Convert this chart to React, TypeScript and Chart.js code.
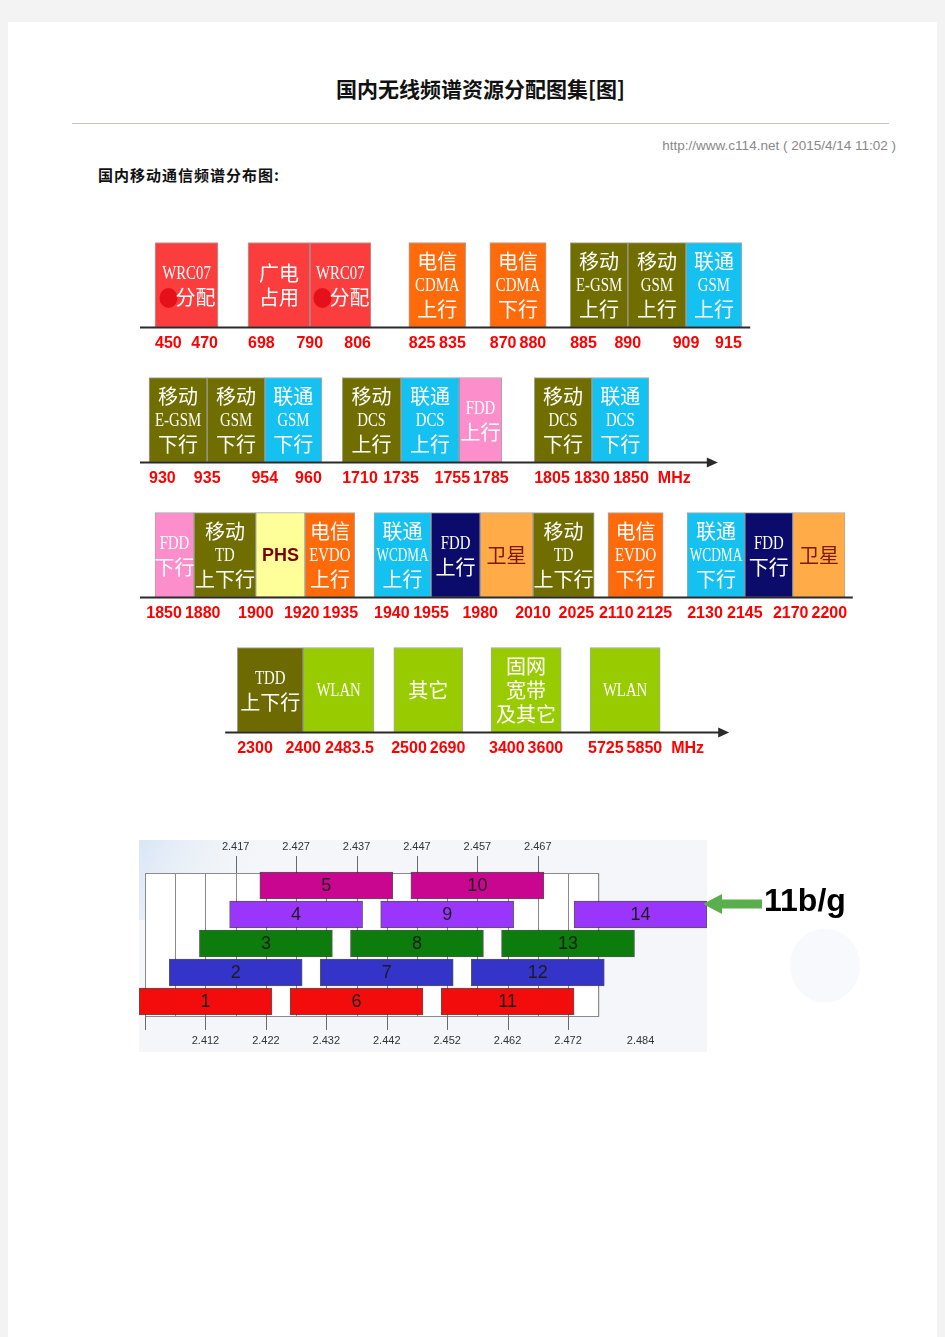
import React, { useEffect, useRef } from 'react';
import { Chart, registerables } from 'chart.js';

Chart.register(...registerables);

// ================= Spectrum allocation rows (MHz) =================
const rowIds = ['row1', 'row2', 'row3', 'row4'];

// tick labels (frequencies) and their schematic position along the row axis (1 unit ≈ one band width)
const row1Ticks = ['450', '470', '698', '790', '806', '825', '835', '870', '880', '885', '890', '909', '915'];
const row1Pos = [0.25, 1.3, 1.8, 2.83, 3.85, 4.48, 5.43, 5.83, 6.77, 7.17, 8.13, 9.1, 10.03];
const row1Bands = [['450', '470'], ['698', '790'], ['790', '806'], ['825', '835'], ['870', '880'], ['885', '890'], ['890', '909'], ['909', '915']];
const row1Names = ['WRC07\n分配', '广电\n占用', 'WRC07\n分配', '电信\nCDMA\n上行', '电信\nCDMA\n下行', '移动\nE-GSM\n上行', '移动\nGSM\n上行', '联通\nGSM\n上行'];
const row1Kinds = ['wrc', 'sarft', 'wrc', 'telecom', 'telecom', 'mobile', 'mobile', 'unicom'];

const row2Ticks = ['930', '935', '954', '960', '1710', '1735', '1755', '1785', '1805', '1830', '1850'];
const row2Pos = [0.15, 1.12, 2.08, 3.03, 3.37, 4.35, 5.32, 6.03, 6.57, 7.53, 8.48];
const row2Bands = [['930', '935'], ['935', '954'], ['954', '960'], ['1710', '1735'], ['1735', '1755'], ['1755', '1785'], ['1805', '1830'], ['1830', '1850']];
const row2Names = ['移动\nE-GSM\n下行', '移动\nGSM\n下行', '联通\nGSM\n下行', '移动\nDCS\n上行', '联通\nDCS\n上行', 'FDD\n上行', '移动\nDCS\n下行', '联通\nDCS\n下行'];
const row2Kinds = ['mobile', 'mobile', 'unicom', 'mobile', 'unicom', 'fdd', 'mobile', 'unicom'];

const row3Ticks = ['1850', '1880', '1900', '1920', '1935', '1940', '1955', '1980', '2010', '2025', '2110', '2125', '2130', '2145', '2170', '2200'];
const row3Pos = [0.25, 0.9, 1.93, 2.75, 3.58, 3.9, 4.85, 5.67, 6.55, 7.57, 7.8, 8.72, 9.12, 10.08, 10.88, 11.75];
const row3Bands = [['1850', '1880'], ['1880', '1900'], ['1900', '1920'], ['1920', '1935'], ['1940', '1955'], ['1955', '1980'], ['1980', '2010'], ['2010', '2025'], ['2110', '2125'], ['2130', '2145'], ['2145', '2170'], ['2170', '2200']];
const row3Names = ['FDD\n下行', '移动\nTD\n上下行', 'PHS', '电信\nEVDO\n上行', '联通\nWCDMA\n上行', 'FDD\n上行', '卫星', '移动\nTD\n上下行', '电信\nEVDO\n下行', '联通\nWCDMA\n下行', 'FDD\n下行', '卫星'];
const row3Kinds = ['fdd', 'mobile', 'phs', 'telecom', 'unicom', 'fdd3g', 'sat', 'mobile', 'telecom', 'unicom', 'fdd3g', 'sat'];

const row4Ticks = ['2300', '2400', '2483.5', '2500', '2690', '3400', '3600', '5725', '5850'];
const row4Pos = [1.62, 2.72, 3.9, 4.23, 5.38, 5.85, 7.02, 7.5, 8.67];
const row4Bands = [['2300', '2400'], ['2400', '2483.5'], ['2500', '2690'], ['3400', '3600'], ['5725', '5850']];
const row4Names = ['TDD\n上下行', 'WLAN', '其它', '固网\n宽带\n及其它', 'WLAN'];
const row4Kinds = ['tdd', 'wlan', 'wlan', 'wlan', 'wlan'];

const axisStart = [0, 0, 0, 1.42];
const axisEnd = [10.17, 9.63, 11.88, 9.82];
const axisArrow = [false, true, false, true];
const axisUnit = ['', 'MHz', '', 'MHz'];

const palette: Record<string, { fill: string; text: string }> = {
  wrc: { fill: '#fb3d3d', text: '#ffffff' },
  sarft: { fill: '#fb3d3d', text: '#ffffff' },
  telecom: { fill: '#ff6a0a', text: '#ffffff' },
  mobile: { fill: '#716e00', text: '#ffffff' },
  unicom: { fill: '#14c1f1', text: '#ffffff' },
  fdd: { fill: '#fd8ecc', text: '#ffffff' },
  phs: { fill: '#ffff99', text: '#7d0000' },
  fdd3g: { fill: '#0b0b6b', text: '#ffffff' },
  sat: { fill: '#ffab48', text: '#7d1800' },
  tdd: { fill: '#6c6a00', text: '#ffffff' },
  wlan: { fill: '#99cc00', text: '#ffffff' },
};

// ================= 802.11b/g channels (MHz) =================
const wifiChannels = ['1', '2', '3', '4', '5', '6', '7', '8', '9', '10', '11', '12', '13', '14'];
const wifiCenters = [2412, 2417, 2422, 2427, 2432, 2437, 2442, 2447, 2452, 2457, 2462, 2467, 2472, 2484];
const wifiRows = [0, 1, 2, 3, 4, 0, 1, 2, 3, 4, 0, 1, 2, 3];
const wifiWidth = 22;
const wifiTopTicks = ['2.417', '2.427', '2.437', '2.447', '2.457', '2.467'];
const wifiBottomTicks = ['2.412', '2.422', '2.432', '2.442', '2.452', '2.462', '2.472', '2.484'];
const wifiGridFrom = 2402;
const wifiGridTo = 2477;
const wifiGridStep = 5;
const wifiRowColors = ['#f30c0c', '#3434c9', '#0c7c0c', '#9a36fb', '#c9068f'];
const wifiStandard = '11b/g';

const BAND_H = 85;
const CJK = '"Noto Sans CJK SC", sans-serif';

function SpectrumChart() {
  const ref = useRef<HTMLCanvasElement>(null);
  useEffect(() => {
    const rows = [
      { ticks: row1Ticks, pos: row1Pos, bands: row1Bands, names: row1Names, kinds: row1Kinds },
      { ticks: row2Ticks, pos: row2Pos, bands: row2Bands, names: row2Names, kinds: row2Kinds },
      { ticks: row3Ticks, pos: row3Pos, bands: row3Bands, names: row3Names, kinds: row3Kinds },
      { ticks: row4Ticks, pos: row4Pos, bands: row4Bands, names: row4Names, kinds: row4Kinds },
    ];
    const data: any[] = [];
    rows.forEach((row, r) => {
      row.bands.forEach((b, i) => {
        data.push({
          x: [row.pos[row.ticks.indexOf(b[0])], row.pos[row.ticks.indexOf(b[1])]],
          y: rowIds[r],
          name: row.names[i],
          kind: row.kinds[i],
        });
      });
    });

    const decor = {
      id: 'spectrumDecor',
      afterDatasetsDraw(chart: any) {
        const ctx = chart.ctx as CanvasRenderingContext2D;
        const meta = chart.getDatasetMeta(0);
        const raw = chart.data.datasets[0].data as any[];
        const xs = chart.scales.x;
        const ys = chart.scales.y;
        // band captions
        meta.data.forEach((el: any, i: number) => {
          const d = raw[i];
          const p = el.getProps(['x', 'base', 'y'], true);
          const left = Math.min(p.x, p.base);
          const right = Math.max(p.x, p.base);
          const cx = (left + right) / 2;
          const w = right - left;
          const lines = String(d.name).split('\n');
          const lh = 24;
          ctx.save();
          ctx.textAlign = 'center';
          ctx.textBaseline = 'middle';
          lines.forEach((ln, k) => {
            const ly = p.y + (k - (lines.length - 1) / 2) * lh;
            ctx.fillStyle = palette[d.kind].text;
            if (d.kind === 'phs') {
              ctx.font = 'bold 18px "Liberation Sans", Arial, sans-serif';
              ctx.fillText(ln, cx, ly + 1);
            } else if (/^[\x00-\x7f]+$/.test(ln)) {
              ctx.font = '19px "Liberation Serif", serif';
              const tw = ctx.measureText(ln).width;
              const s = Math.min(0.78, (w - 5) / tw);
              ctx.save();
              ctx.translate(cx, ly + 1);
              ctx.scale(s, 1);
              ctx.fillText(ln, 0, 0);
              ctx.restore();
            } else if (d.kind === 'wrc' && k === lines.length - 1) {
              // smudged mark in front of the caption, as in the source picture
              ctx.fillStyle = '#e5101a';
              ctx.beginPath();
              ctx.ellipse(cx - 18, ly + 1, 9, 10, 0, 0, Math.PI * 2);
              ctx.fill();
              ctx.fillStyle = palette[d.kind].text;
              ctx.font = '20px ' + CJK;
              ctx.fillText(ln, cx + 9, ly);
            } else {
              ctx.font = '20px ' + CJK;
              ctx.fillText(ln, cx, ly);
            }
          });
          ctx.restore();
        });

        // axes + labels
        rows.forEach((row, r) => {
          const yb = ys.getPixelForValue(r) + BAND_H / 2;
          const x0 = xs.getPixelForValue(axisStart[r]);
          const x1 = xs.getPixelForValue(axisEnd[r]);
          ctx.save();
          ctx.strokeStyle = '#2a2a2a';
          ctx.fillStyle = '#2a2a2a';
          ctx.lineWidth = 2;
          ctx.beginPath();
          ctx.moveTo(x0, yb);
          ctx.lineTo(axisArrow[r] ? x1 - 8 : x1, yb);
          ctx.stroke();
          if (axisArrow[r]) {
            ctx.beginPath();
            ctx.moveTo(x1, yb);
            ctx.lineTo(x1 - 11, yb - 5);
            ctx.lineTo(x1 - 11, yb + 5);
            ctx.closePath();
            ctx.fill();
          }
          // tick labels
          ctx.font = 'bold 16px "Liberation Sans", Arial, sans-serif';
          ctx.fillStyle = '#ff0000';
          ctx.textAlign = 'center';
          ctx.textBaseline = 'middle';
          const items = row.ticks.map((t, i) => {
            const starts = row.bands.some((b) => b[0] === t);
            const ends = row.bands.some((b) => b[1] === t);
            const px = xs.getPixelForValue(row.pos[i]);
            const tw = ctx.measureText(t).width;
            let c = px;
            if (starts && !ends) c = px + tw / 2;
            else if (ends && !starts) c = px - tw / 2;
            return { t, w: tw, c };
          });
          for (let it = 0; it < 12; it++) {
            for (let i = 0; i < items.length - 1; i++) {
              const a = items[i];
              const b = items[i + 1];
              const need = (a.w + b.w) / 2 + 3;
              const dd = b.c - a.c;
              if (dd < need) {
                const s = (need - dd) / 2;
                a.c -= s;
                b.c += s;
              }
            }
          }
          const ly = yb + 16;
          items.forEach((it) => ctx.fillText(it.t, it.c, ly));
          if (axisUnit[r]) {
            const last = items[items.length - 1];
            ctx.textAlign = 'left';
            ctx.fillText(axisUnit[r], last.c + last.w / 2 + 9, ly);
          }
          ctx.restore();
        });
      },
    };

    const chart = new Chart(ref.current as HTMLCanvasElement, {
      type: 'bar',
      data: {
        labels: rowIds,
        datasets: [
          {
            data,
            backgroundColor: data.map((d) => palette[d.kind].fill),
            borderColor: 'rgba(0,0,0,0.35)',
            borderWidth: 1,
            borderSkipped: false,
            barThickness: BAND_H,
          } as any,
        ],
      },
      options: {
        indexAxis: 'y',
        responsive: false,
        animation: false,
        devicePixelRatio: 1,
        layout: { padding: { top: 7.5, bottom: 12.5, left: 0, right: 0 } },
        plugins: { legend: { display: false }, tooltip: { enabled: false } },
        scales: {
          x: { type: 'linear', min: -0.25, max: 12.25, display: false },
          y: { type: 'category', display: false },
        },
      } as any,
      plugins: [decor],
    });
    return () => chart.destroy();
  }, []);
  return (
    <canvas
      ref={ref}
      width={750}
      height={560}
      style={{ position: 'absolute', left: 117, top: 188, width: 750, height: 560 }}
    />
  );
}

function WifiChart() {
  const ref = useRef<HTMLCanvasElement>(null);
  useEffect(() => {
    const data = wifiChannels.map((ch, i) => ({
      x: [wifiCenters[i] - wifiWidth / 2, wifiCenters[i] + wifiWidth / 2],
      y: wifiRows[i],
      ch,
    }));
    const decor = {
      id: 'wifiDecor',
      beforeDatasetsDraw(chart: any) {
        const ctx = chart.ctx as CanvasRenderingContext2D;
        const ca = chart.chartArea;
        const xs = chart.scales.x;
        ctx.save();
        // picture background
        ctx.fillStyle = '#f4f6f9';
        ctx.fillRect(ca.left, 2, ca.right - ca.left, chart.height - 5);
        const g = ctx.createLinearGradient(ca.left, 2, ca.left + 120, 60);
        g.addColorStop(0, 'rgba(214,228,246,0.9)');
        g.addColorStop(1, 'rgba(244,246,249,0)');
        ctx.fillStyle = g;
        ctx.fillRect(ca.left, 2, 160, 80);
        // white grid box
        const bx0 = xs.getPixelForValue(wifiGridFrom);
        const bx1 = xs.getPixelForValue(wifiGridTo);
        const by0 = ca.top + 2;
        const by1 = ca.bottom;
        ctx.fillStyle = '#ffffff';
        ctx.fillRect(bx0, by0, bx1 - bx0, by1 - by0);
        ctx.strokeStyle = '#8a8a8a';
        ctx.lineWidth = 1;
        ctx.strokeRect(Math.round(bx0) + 0.5, Math.round(by0) + 0.5, bx1 - bx0, by1 - by0);
        for (let f = wifiGridFrom; f <= wifiGridTo; f += wifiGridStep) {
          const x = Math.round(xs.getPixelForValue(f)) + 0.5;
          ctx.beginPath();
          ctx.moveTo(x, by0);
          ctx.lineTo(x, by1);
          ctx.stroke();
        }
        // bottom tick marks + labels
        ctx.strokeStyle = '#6a6a6a';
        ctx.fillStyle = '#333333';
        ctx.font = '11px "Liberation Sans", Arial, sans-serif';
        ctx.textAlign = 'center';
        ctx.textBaseline = 'middle';
        const bottomVals = [wifiGridFrom, ...wifiBottomTicks.map((t) => Math.round(parseFloat(t) * 1000))];
        bottomVals.forEach((f) => {
          if (f > wifiGridTo) return;
          const x = Math.round(xs.getPixelForValue(f)) + 0.5;
          ctx.beginPath();
          ctx.moveTo(x, by1);
          ctx.lineTo(x, by1 + 14);
          ctx.stroke();
        });
        wifiBottomTicks.forEach((t) => {
          const x = xs.getPixelForValue(Math.round(parseFloat(t) * 1000));
          ctx.fillText(t, x, by1 + 25);
        });
        wifiTopTicks.forEach((t) => {
          const x = xs.getPixelForValue(Math.round(parseFloat(t) * 1000));
          const xr = Math.round(x) + 0.5;
          ctx.beginPath();
          ctx.moveTo(xr, by0);
          ctx.lineTo(xr, by0 - 17);
          ctx.stroke();
          ctx.fillText(t, x, by0 - 26);
        });
        ctx.restore();
      },
      afterDatasetsDraw(chart: any) {
        const ctx = chart.ctx as CanvasRenderingContext2D;
        const meta = chart.getDatasetMeta(0);
        const raw = chart.data.datasets[0].data as any[];
        ctx.save();
        ctx.fillStyle = '#1c1c1c';
        ctx.font = '18px "Liberation Sans", Arial, sans-serif';
        ctx.textAlign = 'center';
        ctx.textBaseline = 'middle';
        let lastRight = 0;
        let lastY = 0;
        meta.data.forEach((el: any, i: number) => {
          const p = el.getProps(['x', 'base', 'y'], true);
          ctx.fillText(raw[i].ch, (p.x + p.base) / 2, p.y + 1);
          if (i === meta.data.length - 1) {
            lastRight = Math.max(p.x, p.base);
            lastY = p.y;
          }
        });
        // arrow pointing at the last channel + standard label
        const tip = lastRight - 4;
        const ay = lastY - 10.5;
        ctx.fillStyle = '#5aae4e';
        ctx.beginPath();
        ctx.moveTo(tip, ay);
        ctx.lineTo(tip + 19, ay - 10);
        ctx.lineTo(tip + 19, ay - 4.5);
        ctx.lineTo(tip + 59, ay - 4.5);
        ctx.lineTo(tip + 59, ay + 4.5);
        ctx.lineTo(tip + 19, ay + 4.5);
        ctx.lineTo(tip + 19, ay + 10);
        ctx.closePath();
        ctx.fill();
        ctx.fillStyle = '#000000';
        ctx.font = 'bold 32px "Liberation Sans", Arial, sans-serif';
        ctx.textAlign = 'left';
        ctx.textBaseline = 'alphabetic';
        ctx.fillText(wifiStandard, tip + 61, lastY - 3.5);
        // faint decorative blob
        ctx.fillStyle = 'rgba(236,240,247,0.4)';
        ctx.beginPath();
        ctx.ellipse(tip + 122, lastY + 51, 35, 37, 0, 0, Math.PI * 2);
        ctx.fill();
        ctx.restore();
      },
    };
    const chart = new Chart(ref.current as HTMLCanvasElement, {
      type: 'bar',
      data: {
        datasets: [
          {
            data,
            backgroundColor: wifiRows.map((r) => wifiRowColors[r]),
            borderColor: 'rgba(30,30,30,0.75)',
            borderWidth: 1,
            borderSkipped: false,
            barThickness: 27,
          } as any,
        ],
      },
      options: {
        indexAxis: 'y',
        responsive: false,
        animation: false,
        devicePixelRatio: 1,
        layout: { padding: { top: 33, bottom: 39, left: 0, right: 153 } },
        plugins: { legend: { display: false }, tooltip: { enabled: false } },
        scales: {
          x: { type: 'linear', min: 2401, max: 2495, display: false },
          y: { type: 'linear', min: -0.5, max: 4.5, offset: false, display: false },
        },
      } as any,
      plugins: [decor],
    });
    return () => chart.destroy();
  }, []);
  return (
    <canvas
      ref={ref}
      width={721}
      height={217}
      style={{ position: 'absolute', left: 131, top: 816, width: 721, height: 217 }}
    />
  );
}

export default function App() {
  return (
    <>
      <div style={{ position: 'fixed', left: 0, top: 0, right: 0, bottom: 0, background: '#f3f3f3' }} />
      <div
        style={{
          position: 'fixed',
          left: 8,
          top: 22,
          width: 929,
          height: 1315,
          background: '#ffffff',
          overflow: 'hidden',
        }}
      >
        <div
          style={{
            position: 'absolute',
            left: 64,
            top: 56,
            width: 817,
            textAlign: 'center',
            fontFamily: CJK,
            fontWeight: 'bold',
            fontSize: 21,
            lineHeight: '21px',
            color: '#111111',
            whiteSpace: 'nowrap',
          }}
        >
          国内无线频谱资源分配图集[图]
        </div>
        <div style={{ position: 'absolute', left: 64, top: 101, width: 817, height: 1, background: '#c6c6be' }} />
        <div
          style={{
            position: 'absolute',
            right: 41,
            top: 117,
            fontFamily: '"Liberation Sans", Arial, sans-serif',
            fontSize: 13.5,
            lineHeight: '14px',
            color: '#888888',
            whiteSpace: 'nowrap',
          }}
        >
          http://www.c114.net ( 2015/4/14 11:02 )
        </div>
        <div
          style={{
            position: 'absolute',
            left: 90,
            top: 145,
            fontFamily: CJK,
            fontWeight: 'bold',
            fontSize: 15,
            lineHeight: '15px',
            letterSpacing: 1,
            color: '#111111',
            whiteSpace: 'nowrap',
          }}
        >
          国内移动通信频谱分布图:
        </div>
        <SpectrumChart />
        <WifiChart />
      </div>
    </>
  );
}
